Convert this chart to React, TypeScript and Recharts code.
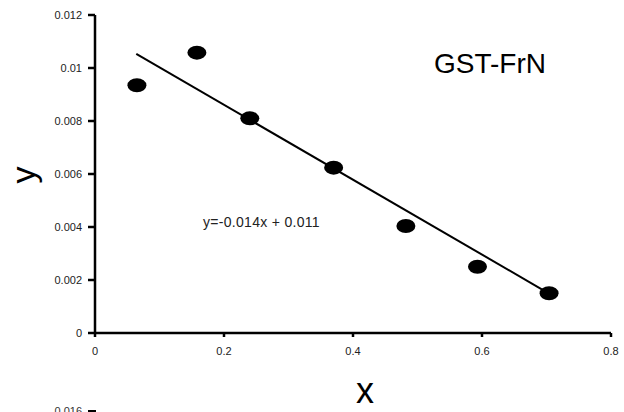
import React from 'react';
import { ScatterChart, Scatter, XAxis, YAxis, ReferenceLine } from 'recharts';

const xValues = [0.065, 0.158, 0.24, 0.37, 0.482, 0.593, 0.704];
const yValues = [0.00935, 0.01058, 0.0081, 0.00624, 0.00404, 0.0025, 0.0015];
const fitX = [0.064, 0.704];
const fitY = [0.01053, 0.00149];
const xTicks = [0, 0.2, 0.4, 0.6, 0.8];
const yTicks = [0, 0.002, 0.004, 0.006, 0.008, 0.01, 0.012];
const title = 'GST-FrN';
const equation = 'y=-0.014x + 0.011';
const xLabel = 'x';
const yLabel = 'y';
const nextChartTick = '0.016';

const points = xValues.map((x, i) => ({ x, y: yValues[i] }));
const segment = fitX.map((x, i) => ({ x, y: fitY[i] }));

const FONT = '"Liberation Sans", Arial, sans-serif';

const Dot = (props: any) => (
  <ellipse cx={props.cx} cy={props.cy} rx={9.5} ry={7} fill="#000" />
);

export default function App() {
  return (
    <div style={{ position: 'fixed', left: 0, top: 0, width: 624, height: 412, background: '#fff', fontFamily: FONT }}>
      <ScatterChart width={624} height={412} margin={{ top: 15, right: 13, bottom: 49, left: 0 }}>
        <XAxis
          type="number"
          dataKey="x"
          domain={[0, 0.8]}
          ticks={xTicks}
          height={30}
          stroke="#000"
          strokeWidth={2.5}
          axisLine={{ stroke: '#000', strokeWidth: 2.5 }}
          tickLine={{ stroke: '#000', strokeWidth: 2.5 }}
          tickSize={4}
          tickMargin={10}
          tick={{ fill: '#222', fontSize: 11, fontFamily: FONT, strokeWidth: 0 }}
          interval={0}
        />
        <YAxis
          type="number"
          dataKey="y"
          domain={[0, 0.012]}
          ticks={yTicks}
          width={95}
          stroke="#000"
          strokeWidth={2.5}
          axisLine={{ stroke: '#000', strokeWidth: 2.5 }}
          tickLine={{ stroke: '#000', strokeWidth: 2.5 }}
          tickSize={7}
          tickMargin={6}
          tick={{ fill: '#222', fontSize: 11, fontFamily: FONT, strokeWidth: 0 }}
          interval={0}
        />
        <ReferenceLine segment={segment} stroke="#000" strokeWidth={2} ifOverflow="visible" />
        <Scatter data={points} shape={Dot} isAnimationActive={false} />
      </ScatterChart>
      <svg width={624} height={412} style={{ position: 'absolute', left: 0, top: 0, pointerEvents: 'none' }}>
        <text x={490} y={73} textAnchor="middle" fontSize={28} fontFamily={FONT} fill="#000">{title}</text>
        <text x={203} y={227} fontSize={14} letterSpacing={0.3} fontFamily={FONT} fill="#222">{equation}</text>
        <text x={365} y={403} textAnchor="middle" fontSize={36} fontFamily={FONT} fill="#000">{xLabel}</text>
        <text transform="translate(35,175) rotate(-90)" textAnchor="middle" fontSize={34} fontFamily={FONT} fill="#000">{yLabel}</text>
        <text x={82} y={415} textAnchor="end" fontSize={11} fontFamily={FONT} fill="#333">{nextChartTick}</text>
        <line x1={88} y1={411} x2={96} y2={411} stroke="#000" strokeWidth={2} />
      </svg>
    </div>
  );
}
